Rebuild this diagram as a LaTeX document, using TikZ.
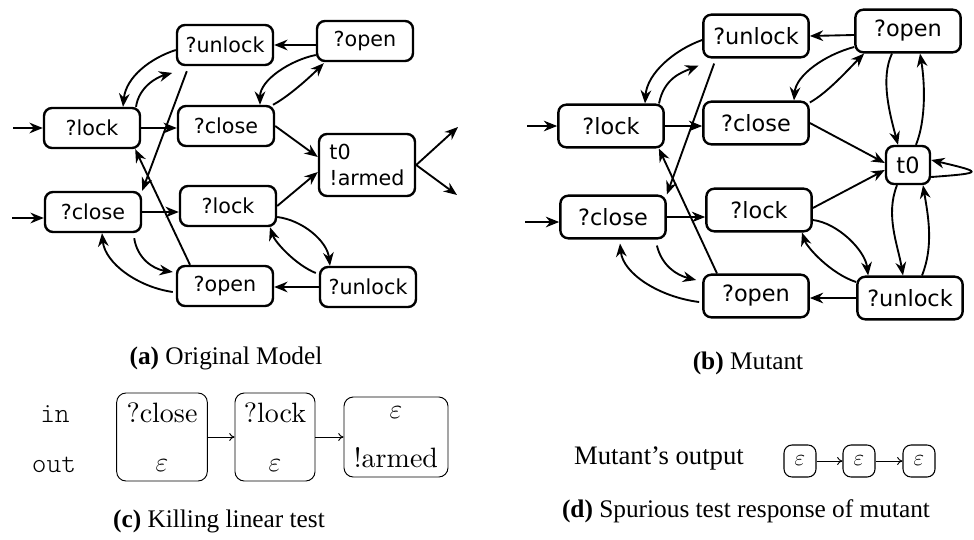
\documentclass[tikz,border=0pt]{standalone}
\usepackage{fontspec}
\newfontfamily\graphfont{DejaVu Sans}
\newfontfamily\capfont{Liberation Serif}
\newfontfamily\cellfont{lmroman10-regular.otf}
\newfontfamily\cellmono{lmmonolt10-regular.otf}
\usepackage{tikz}
\usetikzlibrary{arrows.meta,calc}

\begin{document}
\begin{tikzpicture}[
    x=0.75pt, y=-0.75pt,
    >={Stealth[length=10pt,width=8pt]},
    state/.style={
        rectangle,
        draw,
        rounded corners=6pt,
        line width=1.8pt,
        minimum width=72pt,
        minimum height=30pt,
        inner sep=2pt,
        font=\graphfont\fontsize{15.5}{19.5}\selectfont
    },
    stateb/.style={
        state,
        minimum width=79pt,
        minimum height=32pt,
        font=\graphfont\fontsize{16.8}{20}\selectfont
    },
    edge/.style={->, line width=1.4pt},
    cell/.style={
        rectangle,
        draw,
        rounded corners=7pt,
        line width=0.7pt,
        minimum width=68pt,
        minimum height=66pt,
        align=center,
        font=\cellfont\fontsize{21}{25}\selectfont
    },
    epsbox/.style={
        rectangle,
        draw,
        rounded corners=6pt,
        line width=0.8pt,
        minimum size=24pt,
        inner sep=0pt,
        font=\fontsize{17}{20}\selectfont
    },
    thinedge/.style={-{To[length=4pt,width=6pt]}, line width=0.7pt},
    subcaption/.style={font=\capfont\fontsize{19}{22}\selectfont}
]
    \useasboundingbox (0,0) rectangle (974,539);

    % (a) original model
    \node[state] (unlA) at (225,45) {?unlock};
    \node[state] (openA) at (365,41) {?open};
    \node[state] (lockA) at (92,128) {?lock};
    \node[state] (closeA) at (226,126) {?close};
    \node[state, align=left, minimum height=46.5pt] (t0A) at (367,165) {t0\\!armed};
    \node[state] (closeB) at (93,212) {?close};
    \node[state] (lockB) at (228,206) {?lock};
    \node[state] (openB) at (225,286) {?open};
    \node[state] (unlB) at (368,287) {?unlock};
    \coordinate (inA1) at (13,128);
    \coordinate (inA2) at (12,218);
    \coordinate (outA1) at (458,127);
    \coordinate (outA2) at (457,195);

    \draw[edge] (inA1) -- (lockA.west);
    \draw[edge] (inA2) -- (inA2 -| closeB.west);
    \draw[edge] (openA.west |- unlA.east) -- (unlA.east);
    \draw[edge] ($(unlA.west)+(0,5)$) .. controls +(-25,8) and +(3,-30) .. ($(lockA.north)+(31,0)$);
    \draw[edge, shorten >=2pt] ($(lockA.north)+(44,0)$) .. controls +(3,-20) and +(-18,5) .. ($(unlA.south west)+(-1,6)$);
    \draw[edge] ($(unlA.south west)+(11,5)$) -- (closeB.north east);
    \draw[edge] (lockA.east) -- (lockA.east -| closeA.west);
    \draw[edge] ($(openA.west)+(0,14)$) .. controls +(-25,5) and +(0,-25) .. ($(closeA.north)+(34,0)$);
    \draw[edge] ($(closeA.north)+(47,0)$) .. controls +(15,-8) and +(-15,15) .. ($(openA.south west)+(8,1)$);
    \draw[edge] (closeA.east) -- ($(t0A.west)+(0,-8)$);
    \draw[edge] (lockB.east) -- ($(t0A.west)+(0,7)$);
    \draw[edge] (t0A.east) -- (outA1);
    \draw[edge] (t0A.east) -- (outA2);
    \draw[edge] (closeB.east) -- (closeB.east -| lockB.west);
    \draw[edge] ($(openB.north)+(-35,0)$) -- ($(lockA.south east)+(-6,0)$);
    \draw[edge] ($(closeB.south east)+(-8,5)$) .. controls +(3,20) and +(-20,-3) .. ($(openB.west)+(-3,-14)$);
    \draw[edge] ($(openB.west)+(-3,6)$) .. controls +(-35,-5) and +(3,30) .. ($(closeB.south)+(9,0)$);
    \draw[edge] ($(lockB.east)+(0,11)$) .. controls +(25,3) and +(-3,-25) .. ($(unlB.north)+(-38,0)$);
    \draw[edge] ($(unlB.west)+(-3,-14)$) .. controls +(-20,-8) and +(5,15) .. ($(lockB.south)+(42,0)$);
    \draw[edge] (unlB.west) -- (unlB.west -| openB.east);

    % (b) mutant
    \node[stateb] (unlC) at (756,36) {?unlock};
    \node[stateb] (openC) at (908,31) {?open};
    \node[stateb] (lockC) at (611,126) {?lock};
    \node[stateb] (closeC) at (756,123) {?close};
    \node[stateb, minimum width=33pt, minimum height=28.5pt] (t0C) at (908,165) {t0};
    \node[stateb] (closeD) at (613,217) {?close};
    \node[stateb] (lockD) at (759,210) {?lock};
    \node[stateb] (openD) at (756,296) {?open};
    \node[stateb] (unlD) at (910,298) {?unlock};
    \coordinate (inB1) at (527,126);
    \coordinate (inB2) at (525,222);

    \draw[edge] (inB1) -- (lockC.west);
    \draw[edge] (inB2) -- (inB2 -| closeD.west);
    \draw[edge] ($(openC.west)+(0,4)$) -- (unlC.east);
    \draw[edge] ($(unlC.west)+(0,4)$) .. controls +(-28,10) and +(2,-30) .. ($(lockC.north)+(34,0)$);
    \draw[edge, shorten >=2pt] ($(lockC.north)+(48,0)$) .. controls +(5,-25) and +(-20,8) .. ($(unlC.south west)+(-1,6)$);
    \draw[edge] ($(unlC.south west)+(12,5)$) -- (closeD.north east);
    \draw[edge] (lockC.east) -- (lockC.east -| closeC.west);
    \draw[edge] ($(openC.west)+(0,16)$) .. controls +(-30,8) and +(2,-25) .. ($(closeC.north)+(38,0)$);
    \draw[edge] ($(closeC.north east)+(0,2)$) .. controls +(18,-10) and +(-15,15) .. ($(openC.south west)+(10,0)$);
    \draw[edge] (closeC.east) -- ($(t0C.west)+(0,-2)$);
    \draw[edge] ($(lockD.east)+(0,-2)$) -- ($(t0C.west)+(0,5)$);
    \draw[edge] ($(t0C.east)+(0,12)$) .. controls +(55,-4) and +(50,12) .. ($(t0C.east)+(0,-5)$);
    \draw[edge] ($(openC.south)+(-16,0)$) .. controls +(-12,25) and +(-8,-30) .. ($(t0C.north)+(-10,0)$);
    \draw[edge] ($(t0C.north)+(8,0)$) .. controls +(10,-25) and +(5,30) .. ($(openC.south)+(12,0)$);
    \draw[edge] ($(t0C.south)+(-11,0)$) .. controls +(-12,30) and +(-5,-30) .. ($(unlD.north)+(-7,0)$);
    \draw[edge] ($(unlD.north)+(12,0)$) .. controls +(12,-30) and +(5,30) .. ($(t0C.south)+(15,0)$);
    \draw[edge] (closeD.east) -- (closeD.east -| lockD.west);
    \draw[edge] ($(openD.north)+(-39,0)$) -- ($(lockC.south east)+(-6,0)$);
    \draw[edge] ($(closeD.south east)+(-10,6)$) .. controls +(5,20) and +(-20,-5) .. ($(openD.west)+(-6,-16)$);
    \draw[edge] ($(openD.west)+(-3,6)$) .. controls +(-40,-5) and +(3,30) .. ($(closeD.south)+(7,4)$);
    \draw[edge] ($(lockD.east)+(0,10)$) .. controls +(25,3) and +(-3,-25) .. ($(unlD.north west)+(12,0)$);
    \draw[edge] ($(unlD.west)+(0,-16)$) .. controls +(-25,-8) and +(5,15) .. ($(lockD.south)+(43,0)$);
    \draw[edge] (unlD.west) -- (unlD.west -| openD.east);

    % (c) killing linear test
    \node[anchor=base, font=\cellmono\fontsize{21}{25}\selectfont] (inlbl) at (55,422) {in};
    \node[anchor=base, font=\cellmono\fontsize{21}{25}\selectfont] (outlbl) at (54,472) {out};
    \node[cell] (c1) at (162,437) {?close\\[12pt]$\varepsilon$};
    \node[cell, minimum width=60pt] (c2) at (275,437) {?lock\\[12pt]$\varepsilon$};
    \node[cell, minimum width=78pt, minimum height=60pt] (c3) at (396,437) {$\varepsilon$\\[12pt]!armed};
    \draw[thinedge] (c1.east) -- (c2.west);
    \draw[thinedge] (c2.east) -- (c3.west);

    % (d) spurious response
    \node[font=\capfont\fontsize{20}{24}\selectfont] (mutout) at (659,458) {Mutant’s output};
    \node[epsbox] (e1) at (800,461) {$\varepsilon$};
    \node[epsbox] (e2) at (859,461) {$\varepsilon$};
    \node[epsbox] (e3) at (919,461) {$\varepsilon$};
    \draw[thinedge] (e1.east) -- (e2.west);
    \draw[thinedge] (e2.east) -- (e3.west);

    % captions
    \node[subcaption] (capa) at (226,358) {\textbf{(a)} Original Model};
    \node[subcaption] (capb) at (748,363) {\textbf{(b)} Mutant};
    \node[subcaption] (capc) at (219,521) {\textbf{(c)} Killing linear test};
    \node[subcaption] (capd) at (746,511) {\textbf{(d)} Spurious test response of mutant};
\end{tikzpicture}
\end{document}
